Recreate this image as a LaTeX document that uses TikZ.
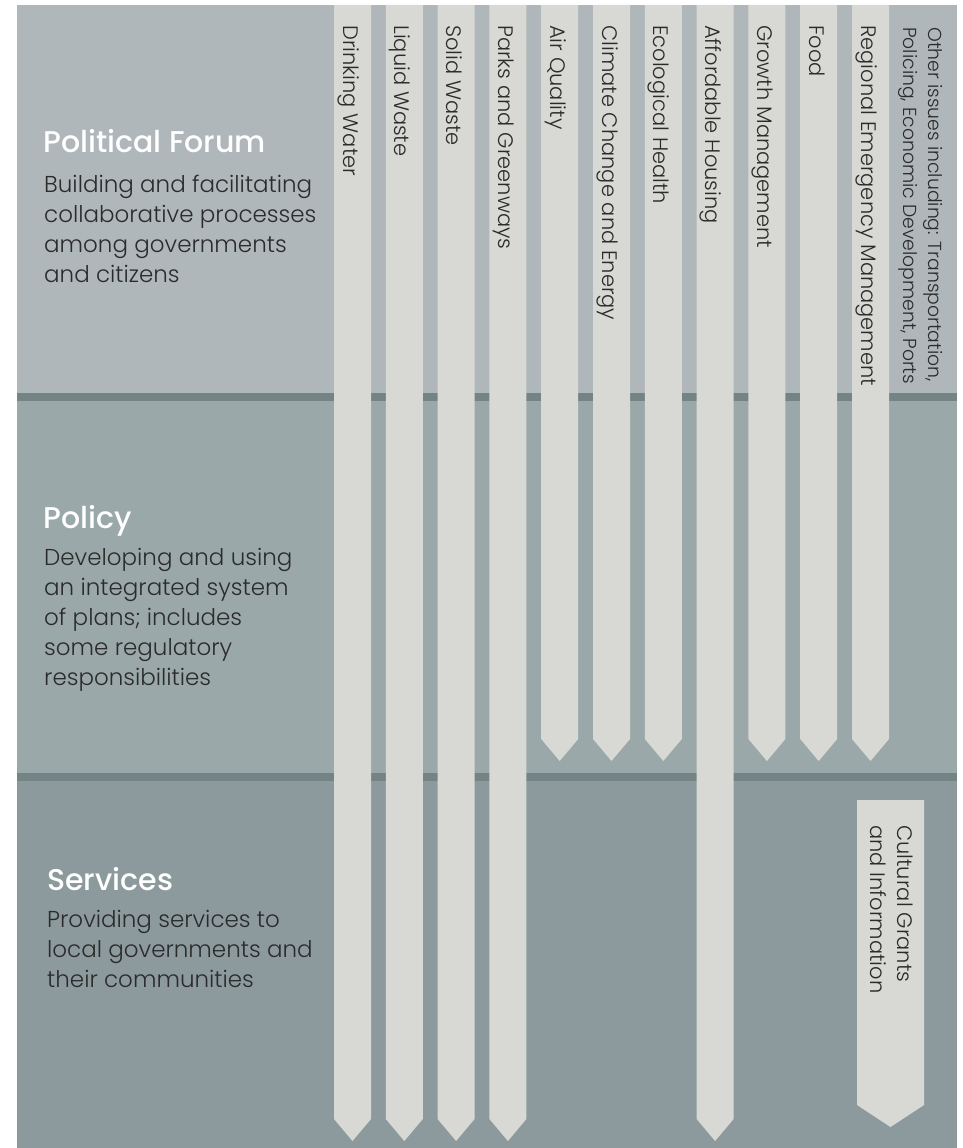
\documentclass[tikz,border=0pt]{standalone}
\usepackage{fontspec}
\setmainfont{Poppins Light}[BoldFont={Poppins Medium}]
\usetikzlibrary{positioning}

\definecolor{forumband}{HTML}{AFB7BA}
\definecolor{policyband}{HTML}{9BA8A9}
\definecolor{serviceband}{HTML}{8C9A9E}
\definecolor{divider}{HTML}{748384}
\definecolor{barfill}{HTML}{D8D9D4}
\definecolor{ink}{HTML}{2B2B2B}

\tikzset{
  heading/.style={anchor=base west, inner sep=0pt, text=white,
    font=\fontsize{30}{32}\selectfont\bfseries},
  blurb/.style={anchor=base west, inner sep=0pt, text=ink,
    font=\fontsize{23}{30}\selectfont},
  bartext/.style={rotate=-90, anchor=base west, inner sep=0pt, text=ink,
    font=\fontsize{21}{24}\selectfont},
  smalltext/.style={bartext, font=\fontsize{18.8}{22}\selectfont}
}

\begin{document}
\begin{tikzpicture}[x=1pt,y=-1pt]
  \useasboundingbox (0,0) rectangle (962,1148);

  % bands and dividers
  \fill[forumband]   (17,5)   rectangle (957,393);
  \fill[policyband]  (17,401) rectangle (957,773);
  \fill[serviceband] (17,781) rectangle (957,1148);
  \fill[divider]     (17,393) rectangle (957,401);
  \fill[divider]     (17,773) rectangle (957,781);

  % issue bars
  \foreach \lbl/\tip [count=\i from 0] in {Drinking Water/1141, Liquid Waste/1141,
      Solid Waste/1141, Parks and Greenways/1141, Air Quality/761,
      Climate Change and Energy/761, Ecological Health/761,
      Affordable Housing/1141, Growth Management/761, Food/761,
      Regional Emergency Management/761} {
    \pgfmathsetmacro\bx{334+51.8*\i}
    \fill[barfill] (\bx,5) -- (\bx+37,5) -- (\bx+37,\tip-22)
      -- (\bx+18.5,\tip) -- (\bx,\tip-22) -- cycle;
    \node[bartext] (bar\i) at (\bx+9,25) {\lbl};
  }

  % other issues column
  \node[smalltext] (other1) at (928,27) {Other issues including: Transportation,};
  \node[smalltext] (other2) at (903,27) {Policing, Economic Development, Ports};

  % cultural grants
  \fill[barfill] (857,800) -- (924,800) -- (924,1105) -- (890.5,1127)
    -- (857,1105) -- cycle;
  \node[bartext] (cult1) at (897,825) {Cultural Grants};
  \node[bartext] (cult2) at (870,825) {and Information};

  % left column
  \node[heading] (forum) at (43,152) {Political Forum};
  \foreach \txt [count=\k from 0] in {Building and facilitating,
      collaborative processes, among governments, and citizens}
    \node[blurb] (forum-\k) at (44,192+30*\k) {\txt};

  \node[heading] (policy) at (43,528) {Policy};
  \foreach \txt [count=\k from 0] in {Developing and using,
      an integrated system, of plans; includes, some regulatory,
      responsibilities}
    \node[blurb] (policy-\k) at (44,565+30*\k) {\txt};

  \node[heading] (services) at (47,890) {Services};
  \foreach \txt [count=\k from 0] in {Providing services to,
      local governments and, their communities}
    \node[blurb] (services-\k) at (47,927+30*\k) {\txt};
\end{tikzpicture}
\end{document}
